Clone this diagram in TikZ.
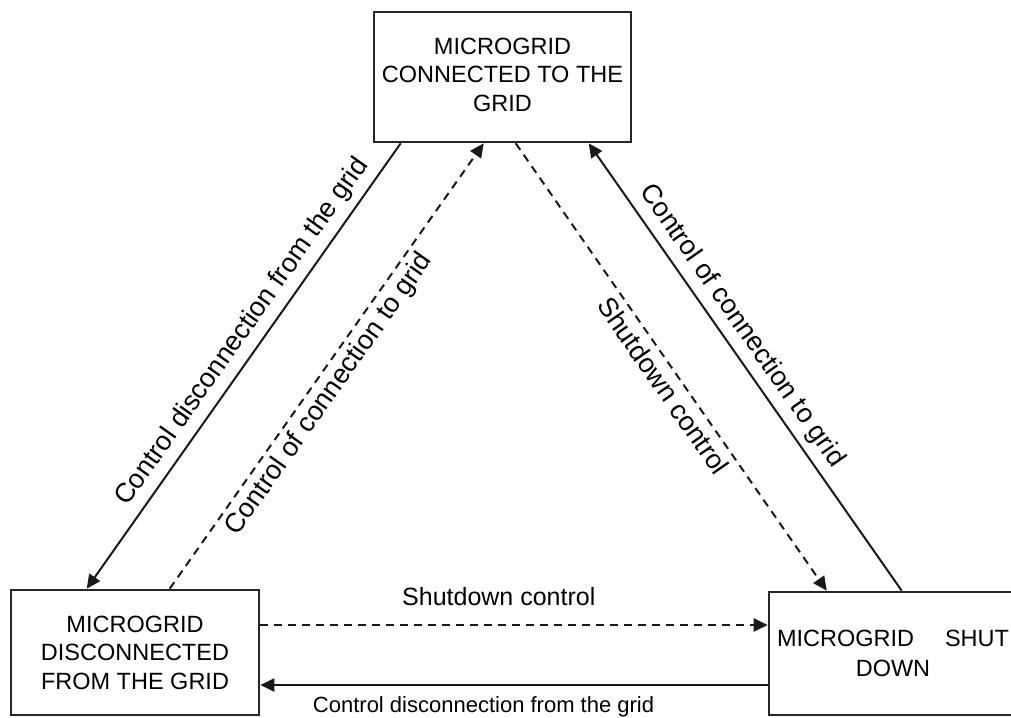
\documentclass[tikz,border=0pt]{standalone}
\usepackage{fontspec}
\setmainfont{Liberation Sans}
\usetikzlibrary{arrows.meta}
\begin{document}
\begin{tikzpicture}[x=1pt,y=-1pt,
  statebox/.style={draw=black!85, line width=2.6pt, inner sep=0pt,
    minimum width=#1, align=center,
    font=\fontsize{23.5}{28.5}\selectfont, text=black},
  link/.style={line width=2pt, draw=black!90,
    -{Triangle[length=14pt,width=13pt]}},
  dashlink/.style={link, dash pattern=on 8pt off 6pt},
  difflabel/.style={sloped, inner sep=0pt, text=black,
    font=\fontsize{27}{30}\selectfont},
  flatlabel/.style={inner sep=0pt, text=black}]
  \useasboundingbox (0,0) rectangle (1011,717);
  \clip (0,0) rectangle (1011,717);
  \fill[white] (0,0) rectangle (1011,717);

  % the three operating states
  \node[statebox=257pt, minimum height=130pt] (top) at (502.5,77)
    {\raisebox{4pt}{\begin{tabular}{@{}c@{}}MICROGRID\\CONNECTED TO THE\\GRID\end{tabular}}};
  \node[statebox=248pt, minimum height=125pt] (left) at (135,652.5)
    {MICROGRID\\DISCONNECTED\\FROM THE GRID};
  \node[statebox=248pt, minimum height=123pt, text width=232pt] (right) at (893,653.5)
    {MICROGRID\hfill SHUT\\[1.5pt]DOWN};

  % transitions between the upper state and the two lower ones
  \draw[link] ([xshift=28pt]top.south west) --
    node[difflabel, pos=0.45, above=7pt] {Control disconnection from the grid}
    ([xshift=77pt]left.north west);
  \draw[dashlink] ([xshift=160pt]left.north west) --
    node[difflabel, pos=0.46, below=5pt] {Control of connection to grid}
    ([xshift=111pt]top.south west);
  \draw[dashlink] ([xshift=143pt]top.south west) --
    node[difflabel, pos=0.52, below=6pt] {Shutdown control}
    ([xshift=59pt]right.north west);
  \draw[link] ([xshift=134pt]right.north west) --
    node[difflabel, pos=0.565, above=7pt] {Control of connection to grid}
    ([xshift=216pt]top.south west);

  % transitions between the two lower states
  \coordinate (sd) at ([yshift=27.5pt]left.east);
  \coordinate (dc) at ([yshift=-32.5pt]left.east);
  \draw[dashlink] (sd) --
    node[flatlabel, pos=0.47, above=18pt, font=\fontsize{25}{28}\selectfont] {Shutdown control}
    (sd -| right.west);
  \draw[link] (dc -| right.west) --
    node[flatlabel, pos=0.56, below=11pt, font=\fontsize{22}{26}\selectfont] {Control disconnection from the grid}
    (dc);
\end{tikzpicture}
\end{document}
